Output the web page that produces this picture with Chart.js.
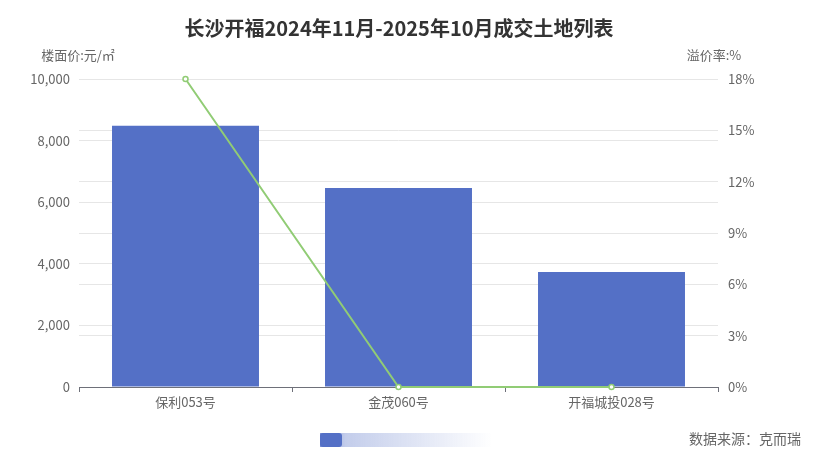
<!DOCTYPE html>
<html>
<head>
<meta charset="UTF-8">
<title>长沙开福成交土地</title>
<style>
  body { margin: 0; background: #fff; }
  #wrap { width: 814px; height: 471px; position: relative; }
</style>
</head>
<body>
<div id="wrap"><canvas id="chart" width="814" height="471"></canvas></div>
<script src="https://cdn.jsdelivr.net/npm/chart.js"></script>
<script>
const categories = ['保利053号', '金茂060号', '开福城投028号'];
const floorPrice = [8480, 6460, 3730];      // 楼面价 元/㎡
const premiumRate = [18, 0, 0];             // 溢价率 %
const titleText = '长沙开福2024年11月-2025年10月成交土地列表';
const sourceText = '数据来源：克而瑞';

const cjk = '"Noto Sans CJK SC", "Noto Sans", sans-serif';

// title, axis names, fake slider and source note
const extras = {
    id: 'extras',
    afterDraw(chart) {
        const c = chart.ctx;
        c.save();
        c.fillStyle = '#333';
        c.font = 'bold 20px ' + cjk;
        c.textAlign = 'center';
        c.textBaseline = 'middle';
        c.fillText(titleText, 399, 28);

        c.font = '13px ' + cjk;
        c.fillStyle = '#666';
        c.fillText('楼面价:元/㎡', 78, 55);
        c.fillText('溢价率:%', 714, 55);

        // slider look-alike
        const g = c.createLinearGradient(320, 0, 492, 0);
        g.addColorStop(0, 'rgba(84,112,198,0.75)');
        g.addColorStop(0.15, 'rgba(84,112,198,0.35)');
        g.addColorStop(1, 'rgba(84,112,198,0)');
        c.fillStyle = g;
        c.fillRect(320, 433, 172, 14);
        c.fillStyle = '#5470c6';
        c.beginPath();
        c.roundRect(320, 433, 22, 14, 3);
        c.fill();

        c.font = '14px ' + cjk;
        c.fillStyle = '#666';
        c.textAlign = 'right';
        c.fillText(sourceText, 801, 439);
        c.restore();
    }
};

new Chart(document.getElementById('chart'), {
    data: {
        labels: categories,
        datasets: [
            {
                type: 'line',
                data: premiumRate,
                yAxisID: 'y1',
                borderColor: '#91cc75',
                borderWidth: 2,
                pointRadius: 2.5,
                pointBorderWidth: 1.5,
                pointBackgroundColor: '#fff',
                pointBorderColor: '#91cc75',
                tension: 0,
                clip: false,
                order: 0
            },
            {
                type: 'bar',
                data: floorPrice,
                yAxisID: 'y',
                backgroundColor: '#5470c6',
                barPercentage: 0.69,
                categoryPercentage: 1,
                order: 1
            }
        ]
    },
    options: {
        responsive: false,
        animation: false,
        layout: { padding: { top: 79, bottom: 54, left: 0, right: 0 } },
        plugins: { legend: { display: false }, tooltip: { enabled: false } },
        scales: {
            x: {
                afterFit: s => { s.height = 30; },
                grid: { offset: true, drawOnChartArea: false, color: '#6e7079', tickLength: 5 },
                border: { color: '#6e7079' },
                ticks: { color: '#666', font: { size: 13, family: cjk }, padding: 2 }
            },
            y: {
                position: 'left',
                min: 0, max: 10000,
                afterFit: s => { s.width = 79; },
                grid: { color: '#e6e6e6', drawTicks: false },
                border: { display: false },
                ticks: {
                    stepSize: 2000, color: '#666', padding: 9,
                    font: { size: 13, family: cjk },
                    callback: v => v.toLocaleString('en-US')
                }
            },
            y1: {
                position: 'right',
                min: 0, max: 18,
                afterFit: s => { s.width = 96; },
                grid: { color: '#e6e6e6', drawTicks: false },
                border: { display: false },
                ticks: {
                    stepSize: 3, color: '#666', padding: 10,
                    font: { size: 13, family: cjk },
                    callback: v => v + '%'
                }
            }
        }
    },
    plugins: [extras]
});
</script>
</body>
</html>
